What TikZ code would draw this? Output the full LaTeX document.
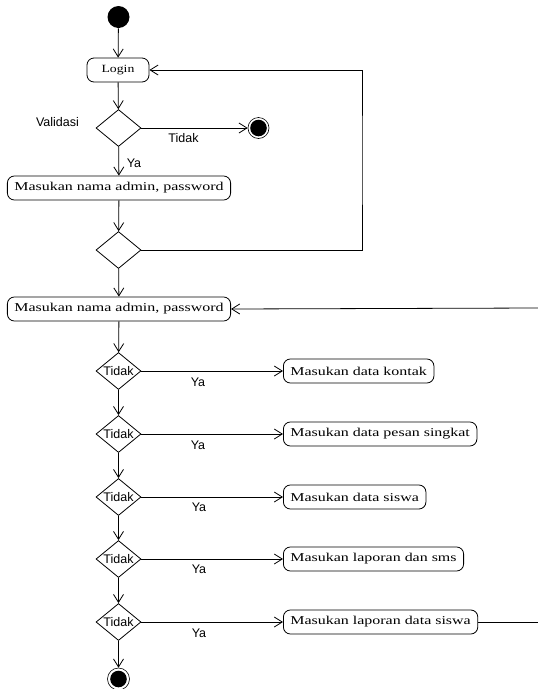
\documentclass[tikz,border=0pt]{standalone}
\usepackage{fontspec}
\setmainfont{Liberation Serif}
\setsansfont{Liberation Sans}
\usetikzlibrary{shapes.geometric,arrows.meta}
\newcommand{\boxtxt}[1]{\scalebox{1.33}[1]{\fontsize{12}{14}\selectfont #1}}
\newcommand{\logintxt}[1]{\scalebox{1.25}[1]{\fontsize{11}{13}\selectfont #1}}
\begin{document}
\begin{tikzpicture}[x=1pt,y=-1pt,line width=0.8pt,
  >={Straight Barb[length=8pt,width=10pt]},
  act/.style={draw,rounded corners=7pt,minimum height=24pt,inner xsep=7pt,inner ysep=0pt},
  dec/.style={draw,diamond,minimum width=45pt,minimum height=37pt,inner sep=0pt},
  lbl/.style={font=\sffamily\fontsize{12.5}{14}\selectfont,inner sep=0pt},
  initst/.style={circle,fill=black,minimum size=22pt,inner sep=0pt},
  finalst/.style={circle,draw,line width=0.6pt,minimum size=21pt,inner sep=0pt,
    path picture={\fill[black] (path picture bounding box.center) circle (8.3pt);}}]
\useasboundingbox (0,0) rectangle (538,689);

% top part
\node[initst] (start) at (118.5,17) {};
\node[act,minimum width=62pt,minimum height=24pt,inner xsep=4pt] (login) at (118,70) {\logintxt{Login}};
\node[dec] (d1) at (118.5,128) {};
\node[lbl] (val) at (57.5,122) {Validasi};
\node[finalst] (end1) at (258.5,128) {};
\node[lbl] (tid1) at (183.5,138) {Tidak};
\node[act] (adm1) at (119,188) {\boxtxt{Masukan nama admin, password}};
\node[lbl] (ya0) at (134,163) {Ya};
\node[dec] (d2) at (118.5,250) {};
\coordinate (lp) at (362,160);
\node[act] (adm2) at (119,309) {\boxtxt{Masukan nama admin, password}};
\coordinate (r1) at (538,308);

\draw[->] (start) -- (login);
\draw[->] (login) -- (d1);
\draw[->] (d1) -- (end1);
\draw[->] (d1) -- (adm1);
\draw[->] (adm1) -- (d2);
\draw[->] (d2) -- (adm2);
\draw[->] (d2.east) -| (lp) |- (login.east);
\draw[->] (r1) -- (adm2.east);

% lower part
\node[dec,label={[lbl]center:Tidak}] (da) at (118.5,371) {};
\node[dec,label={[lbl]center:Tidak}] (db) at (118.5,434) {};
\node[dec,label={[lbl]center:Tidak}] (dc) at (118.5,497) {};
\node[dec,label={[lbl]center:Tidak}] (dd) at (118.5,559) {};
\node[dec,label={[lbl]center:Tidak}] (de) at (118.5,622) {};
\node[finalst,minimum size=22pt] (end2) at (118.5,679) {};

\node[act,anchor=west] (ka) at (283,371) {\boxtxt{Masukan data kontak}};
\node[act,anchor=west] (kb) at (283,434) {\boxtxt{Masukan data pesan singkat}};
\node[act,anchor=west] (kc) at (283,497) {\boxtxt{Masukan data siswa}};
\node[act,anchor=west] (kd) at (283,559) {\boxtxt{Masukan laporan dan sms}};
\node[act,anchor=west] (ke) at (283,622) {\boxtxt{Masukan laporan data siswa}};
\coordinate (r2) at (538,622);

\node[lbl] (yaa) at (198,382) {Ya};
\node[lbl] (yab) at (198,445) {Ya};
\node[lbl] (yac) at (199,507) {Ya};
\node[lbl] (yad) at (199,569) {Ya};
\node[lbl] (yae) at (199,633) {Ya};

\draw[->] (adm2) -- (da);
\draw[->] (da) -- (db);
\draw[->] (db) -- (dc);
\draw[->] (dc) -- (dd);
\draw[->] (dd) -- (de);
\draw[->] (de) -- (end2);
\draw[->] (da) -- (ka);
\draw[->] (db) -- (kb);
\draw[->] (dc) -- (kc);
\draw[->] (dd) -- (kd);
\draw[->] (de) -- (ke);
\draw (ke) -- (r2);
\end{tikzpicture}
\end{document}
